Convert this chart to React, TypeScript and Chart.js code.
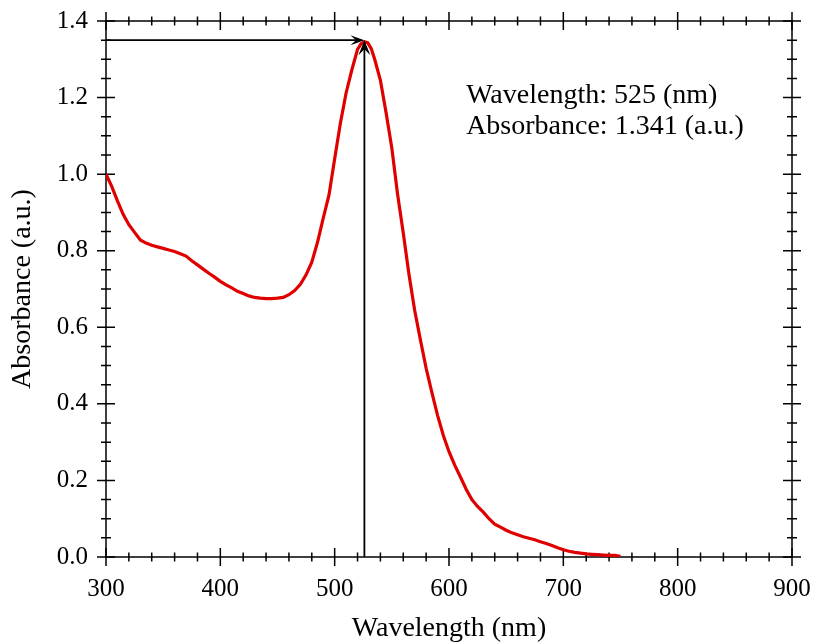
import React, { useEffect, useRef } from "react";
import { Chart, registerables } from "chart.js";

Chart.register(...registerables);

const wavelengths = [
  300, 305, 310, 315, 320, 325, 330, 335, 340, 345, 350, 355, 360, 365, 370, 375, 380, 385, 390, 395,
  400, 405, 410, 415, 420, 425, 430, 435, 440, 445, 450, 455, 460, 465, 470, 475, 480, 485, 490, 495,
  500, 505, 510, 515, 520, 523, 526, 529, 532, 535, 540, 545, 550, 555, 560, 565, 570, 575, 580, 585,
  590, 595, 600, 605, 610, 615, 620, 625, 630, 635, 640, 645, 650, 655, 660, 665, 670, 675, 680, 685,
  690, 695, 700, 705, 710, 715, 720, 725, 730, 735, 740, 745, 750,
];
const absorbance = [
  1.0, 0.968, 0.93, 0.895, 0.868, 0.848, 0.828, 0.82, 0.814, 0.81, 0.806, 0.802, 0.798, 0.792, 0.786, 0.774, 0.763, 0.752, 0.741, 0.731,
  0.72, 0.711, 0.703, 0.694, 0.688, 0.682, 0.678, 0.676, 0.675, 0.675, 0.676, 0.678, 0.685, 0.696, 0.712, 0.737, 0.77, 0.822, 0.885, 0.945,
  1.04, 1.133, 1.212, 1.272, 1.326, 1.34, 1.346, 1.343, 1.328, 1.3, 1.245, 1.16, 1.068, 0.948, 0.846, 0.738, 0.644, 0.567, 0.493, 0.43,
  0.37, 0.318, 0.275, 0.24, 0.209, 0.177, 0.15, 0.132, 0.117, 0.1, 0.086, 0.078, 0.07, 0.063, 0.058, 0.053, 0.049, 0.045, 0.04, 0.035,
  0.03, 0.024, 0.019, 0.015, 0.012, 0.01, 0.008, 0.007, 0.006, 0.005, 0.004, 0.004, 0.002,
];

const X_MIN = 300;
const X_MAX = 900;
const X_MAJOR = 100;
const X_MINOR = 20;
const Y_MIN = 0;
const Y_MAX = 1.4;
const Y_MAJOR = 0.2;
const Y_MINOR = 0.05;

const PEAK_X = 526;
const PEAK_Y = 1.35;
const annotationLines = ["Wavelength: 525 (nm)", "Absorbance: 1.341 (a.u.)"];
const ANNOT_X = 615;
const ANNOT_Y = [1.185, 1.104];

const FONT = "'Liberation Serif', 'Times New Roman', serif";

function arrowHead(ctx: CanvasRenderingContext2D, tx: number, ty: number, dx: number, dy: number, len: number, half: number) {
  const px = -dy;
  const py = dx;
  const bx = tx - dx * len;
  const by = ty - dy * len;
  const nx = tx - dx * len * 0.6;
  const ny = ty - dy * len * 0.6;
  ctx.beginPath();
  ctx.moveTo(tx, ty);
  ctx.lineTo(bx + px * half, by + py * half);
  ctx.lineTo(nx, ny);
  ctx.lineTo(bx - px * half, by - py * half);
  ctx.closePath();
  ctx.fill();
}

const framePlugin = {
  id: "framePlugin",
  beforeDatasetsDraw(chart: any) {
    const { ctx, chartArea, scales } = chart;
    const xs = scales.x;
    const ys = scales.y;
    const { left, right, top, bottom } = chartArea;
    ctx.save();
    ctx.strokeStyle = "#000";
    ctx.lineWidth = 1.5;
    ctx.beginPath();
    ctx.rect(left, top, right - left, bottom - top);
    ctx.stroke();
    ctx.beginPath();
    const nx = Math.round((X_MAX - X_MIN) / X_MINOR);
    for (let i = 0; i <= nx; i++) {
      const v = X_MIN + i * X_MINOR;
      const major = Math.abs(v / X_MAJOR - Math.round(v / X_MAJOR)) < 1e-6;
      const h = major ? 9 : 4.5;
      const px = xs.getPixelForValue(v);
      ctx.moveTo(px, bottom - h);
      ctx.lineTo(px, bottom + h);
      ctx.moveTo(px, top - h);
      ctx.lineTo(px, top + h);
    }
    const ny = Math.round((Y_MAX - Y_MIN) / Y_MINOR);
    for (let i = 0; i <= ny; i++) {
      const v = Y_MIN + i * Y_MINOR;
      const major = Math.abs(v / Y_MAJOR - Math.round(v / Y_MAJOR)) < 1e-6;
      const h = major ? 9 : 5;
      const py = ys.getPixelForValue(v);
      ctx.moveTo(left - h, py);
      ctx.lineTo(left + h, py);
      ctx.moveTo(right - h, py);
      ctx.lineTo(right + h, py);
    }
    ctx.stroke();
    ctx.restore();
  },
  afterDatasetsDraw(chart: any) {
    const { ctx, chartArea, scales } = chart;
    const xs = scales.x;
    const ys = scales.y;
    const tx = xs.getPixelForValue(PEAK_X);
    const ty = ys.getPixelForValue(PEAK_Y);
    ctx.save();
    ctx.strokeStyle = "#000";
    ctx.fillStyle = "#000";
    ctx.lineWidth = 1.8;
    ctx.beginPath();
    ctx.moveTo(chartArea.left, ty);
    ctx.lineTo(tx - 4, ty);
    ctx.moveTo(tx, chartArea.bottom);
    ctx.lineTo(tx, ty + 4);
    ctx.stroke();
    arrowHead(ctx, tx, ty, 1, 0, 14, 5);
    arrowHead(ctx, tx, ty, 0, -1, 15, 6);
    ctx.font = `28px ${FONT}`;
    ctx.textAlign = "left";
    ctx.textBaseline = "alphabetic";
    annotationLines.forEach((t, i) => {
      ctx.fillText(t, xs.getPixelForValue(ANNOT_X), ys.getPixelForValue(ANNOT_Y[i]));
    });
    ctx.restore();
  },
};

export default function App() {
  const ref = useRef<HTMLCanvasElement | null>(null);
  useEffect(() => {
    if (!ref.current) return;
    const data = wavelengths.map((w, i) => ({ x: w, y: absorbance[i] }));
    const chart = new Chart(ref.current, {
      type: "line",
      data: {
        datasets: [
          {
            data,
            borderColor: "#e00000",
            borderWidth: 3.2,
            pointRadius: 0,
            tension: 0,
            fill: false,
          },
        ],
      },
      options: {
        animation: false,
        responsive: true,
        maintainAspectRatio: false,
        layout: { padding: { top: 21, right: 22, left: 0, bottom: 0 } },
        plugins: { legend: { display: false }, tooltip: { enabled: false } },
        scales: {
          x: {
            type: "linear",
            min: X_MIN,
            max: X_MAX,
            grid: { display: false, drawTicks: false },
            border: { display: false },
            ticks: {
              stepSize: X_MAJOR,
              color: "#000",
              font: { family: FONT, size: 25 },
              padding: 17,
              maxRotation: 0,
              callback: (v: any) => String(v),
            },
            title: {
              display: true,
              text: "Wavelength (nm)",
              color: "#000",
              font: { family: FONT, size: 28, lineHeight: 1.0 },
              padding: { top: 0, bottom: 0 },
            },
            afterFit: (s: any) => {
              s.height = 86;
              s.paddingLeft = 0;
              s.paddingRight = 0;
            },
          },
          y: {
            type: "linear",
            min: Y_MIN,
            max: Y_MAX,
            grid: { display: false, drawTicks: false },
            border: { display: false },
            ticks: {
              stepSize: Y_MAJOR,
              color: "#000",
              font: { family: FONT, size: 25 },
              padding: 18,
              callback: (v: any) => Number(v).toFixed(1),
            },
            title: {
              display: true,
              text: "Absorbance (a.u.)",
              color: "#000",
              font: { family: FONT, size: 28 },
              padding: { top: 6, bottom: 0 },
            },
            afterFit: (s: any) => {
              s.width = 106;
              s.paddingTop = 0;
              s.paddingBottom = 0;
            },
          },
        },
      },
      plugins: [framePlugin],
    });
    return () => chart.destroy();
  }, []);
  return (
    <div style={{ position: "absolute", left: 0, top: 0, width: 814, height: 643, background: "#fff" }}>
      <canvas ref={ref} />
    </div>
  );
}
